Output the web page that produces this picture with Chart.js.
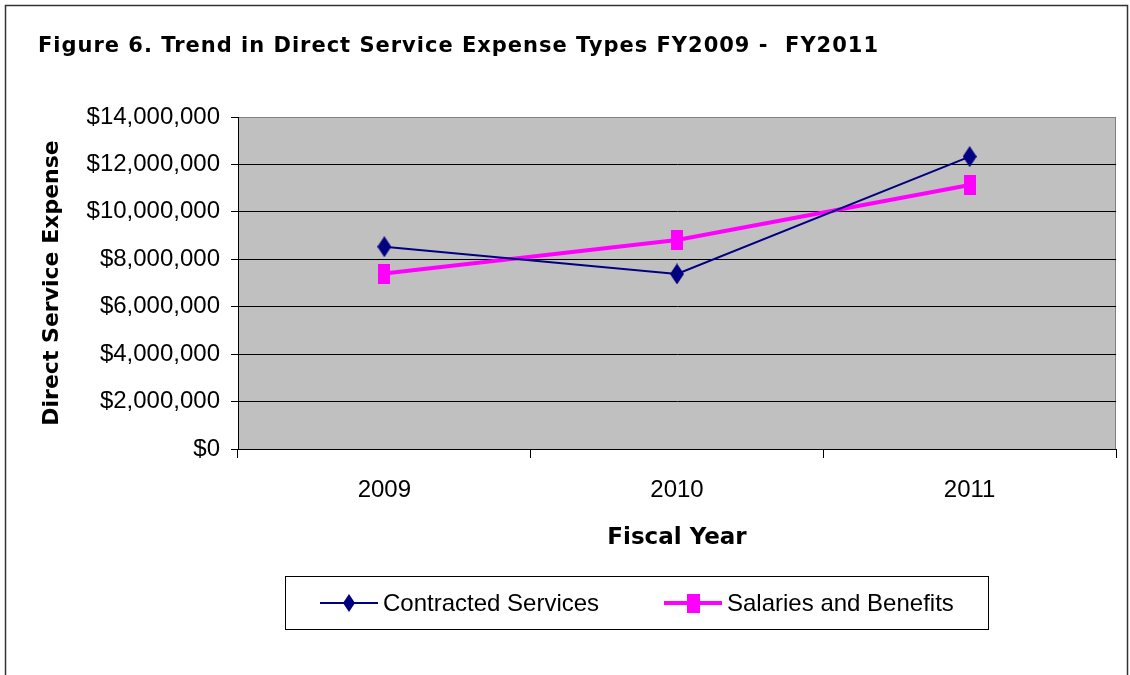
<!DOCTYPE html>
<html>
<head>
<meta charset="utf-8">
<script src="https://cdn.jsdelivr.net/npm/chart.js@4"></script>
<style>
  html, body { margin: 0; padding: 0; background: #fff; }
  #wrap { position: relative; width: 1130px; height: 675px; }
</style>
</head>
<body>
<div id="wrap"><canvas id="grafico" width="1130" height="675"></canvas></div>
<script>
// dados
const anos = ["2009", "2010", "2011"];
const contratados = [8530000, 7380000, 12330000];
const salarios = [7400000, 8810000, 11130000];
const nomesSeries = ["Contracted Services", "Salaries and Benefits"];
const tituloFigura = "Figure 6. Trend in Direct Service Expense Types FY2009 -  FY2011";
const tituloX = "Fiscal Year";
const tituloY = "Direct Service Expense";

const NAVY = "#000080";
const MAGENTA = "#FF00FF";
const FONTE = "'Liberation Sans', Arial, sans-serif";
const FONTE_TIT = "'DejaVu Sans', sans-serif";

// marcadores (losango alto e quadrado alto, como no original)
function criarLosango(w, h, cor) {
    const c = document.createElement("canvas");
    c.width = w; c.height = h;
    const g = c.getContext("2d");
    g.fillStyle = cor;
    g.beginPath();
    g.moveTo(w / 2, 0);
    g.lineTo(w, h / 2);
    g.lineTo(w / 2, h);
    g.lineTo(0, h / 2);
    g.closePath();
    g.fill();
    return c;
}
function criarQuadrado(w, h, cor) {
    const c = document.createElement("canvas");
    c.width = w; c.height = h;
    const g = c.getContext("2d");
    g.fillStyle = cor;
    g.fillRect(0, 0, w, h);
    return c;
}
const losango = criarLosango(14, 21, NAVY);
const quadrado = criarQuadrado(12, 20, MAGENTA);
const losangoLeg = criarLosango(12, 18, NAVY);
const quadradoLeg = criarQuadrado(13, 19, MAGENTA);

const decoracao = {
    id: "decoracao",
    beforeDraw(chart) {
        const { ctx, chartArea: a } = chart;
        ctx.save();
        ctx.fillStyle = "#C0C0C0";
        ctx.fillRect(a.left, a.top, a.right - a.left, a.bottom - a.top);
        ctx.strokeStyle = "#808080";
        ctx.lineWidth = 1;
        ctx.strokeRect(a.left + 0.5, a.top + 0.5, a.right - a.left - 1, a.bottom - a.top);
        ctx.restore();
    },
    afterDraw(chart) {
        const ctx = chart.ctx;
        ctx.save();
        // moldura externa
        ctx.strokeStyle = "#333";
        ctx.lineWidth = 1.5;
        ctx.beginPath();
        ctx.moveTo(5.5, 700);
        ctx.lineTo(5.5, 5.5);
        ctx.lineTo(1127.5, 5.5);
        ctx.lineTo(1127.5, 700);
        ctx.stroke();

        // título ajustado à largura do original
        ctx.fillStyle = "#000";
        ctx.font = "bold 21px " + FONTE_TIT;
        ctx.textBaseline = "middle";
        ctx.textAlign = "left";
        const larg = ctx.measureText(tituloFigura).width;
        ctx.letterSpacing = ((840 - larg) / (tituloFigura.length - 1)) + "px";
        ctx.fillText(tituloFigura, 38, 47);
        ctx.letterSpacing = "0px";

        // legenda com caixa
        ctx.fillStyle = "#fff";
        ctx.fillRect(285, 576, 703, 53);
        ctx.strokeStyle = "#000";
        ctx.lineWidth = 1;
        ctx.strokeRect(285.5, 576.5, 703, 53);
        const itens = [
            { x: 320, cor: NAVY, lw: 2, img: losangoLeg },
            { x: 664, cor: MAGENTA, lw: 4, img: quadradoLeg }
        ];
        const yLeg = 603;
        ctx.font = "24px " + FONTE;
        ctx.textBaseline = "middle";
        itens.forEach((it, i) => {
            ctx.strokeStyle = it.cor;
            ctx.lineWidth = it.lw;
            ctx.beginPath();
            ctx.moveTo(it.x, yLeg);
            ctx.lineTo(it.x + 58, yLeg);
            ctx.stroke();
            ctx.drawImage(it.img, it.x + 29 - it.img.width / 2, yLeg - it.img.height / 2);
            ctx.fillStyle = "#000";
            ctx.fillText(chart.data.datasets[i].label, it.x + 63, yLeg + 1);
        });
        ctx.restore();
    }
};

const ctx = document.getElementById("grafico").getContext("2d");

new Chart(ctx, {
    type: "line",
    data: {
        labels: anos,
        datasets: [
            {
                label: nomesSeries[0],
                data: contratados,
                borderColor: NAVY,
                backgroundColor: NAVY,
                borderWidth: 2,
                pointStyle: losango,
                tension: 0
            },
            {
                label: nomesSeries[1],
                data: salarios,
                borderColor: MAGENTA,
                backgroundColor: MAGENTA,
                borderWidth: 4,
                pointStyle: quadrado,
                tension: 0
            }
        ]
    },
    options: {
        responsive: false,
        animation: false,
        layout: {
            padding: { left: 30, right: 14, top: 117, bottom: 115 }
        },
        plugins: {
            legend: { display: false },
            title: { display: false },
            tooltip: { enabled: false }
        },
        scales: {
            x: {
                offset: true,
                grid: {
                    offset: true,
                    drawOnChartArea: false,
                    drawTicks: true,
                    tickLength: 9,
                    color: "#000",
                    tickColor: "#000"
                },
                border: { display: true, color: "#000", width: 1 },
                ticks: {
                    color: "#000",
                    padding: 18,
                    font: { family: FONTE, size: 24 }
                },
                title: {
                    display: true,
                    text: tituloX,
                    color: "#000",
                    font: { family: FONTE_TIT, size: 23, weight: "bold" },
                    padding: { top: 0, bottom: 8 }
                },
                afterFit: (escala) => { escala.height = 111; }
            },
            y: {
                min: 0,
                max: 14000000,
                grid: {
                    color: (c) => c.tick && c.tick.value === 14000000 ? "#808080" : "#000",
                    tickColor: "#000",
                    tickLength: 7,
                    lineWidth: 1
                },
                border: { display: true, color: "#000", width: 1 },
                ticks: {
                    stepSize: 2000000,
                    color: "#000",
                    padding: 11,
                    font: { family: FONTE, size: 24 },
                    callback: (v) => "$" + Number(v).toLocaleString("en-US")
                },
                title: {
                    display: true,
                    text: tituloY,
                    color: "#000",
                    font: { family: FONTE_TIT, size: 22, weight: "bold" },
                    padding: { top: 9, bottom: 0 }
                },
                afterFit: (escala) => { escala.width = 208; }
            }
        }
    },
    plugins: [decoracao]
});
</script>
</body>
</html>
